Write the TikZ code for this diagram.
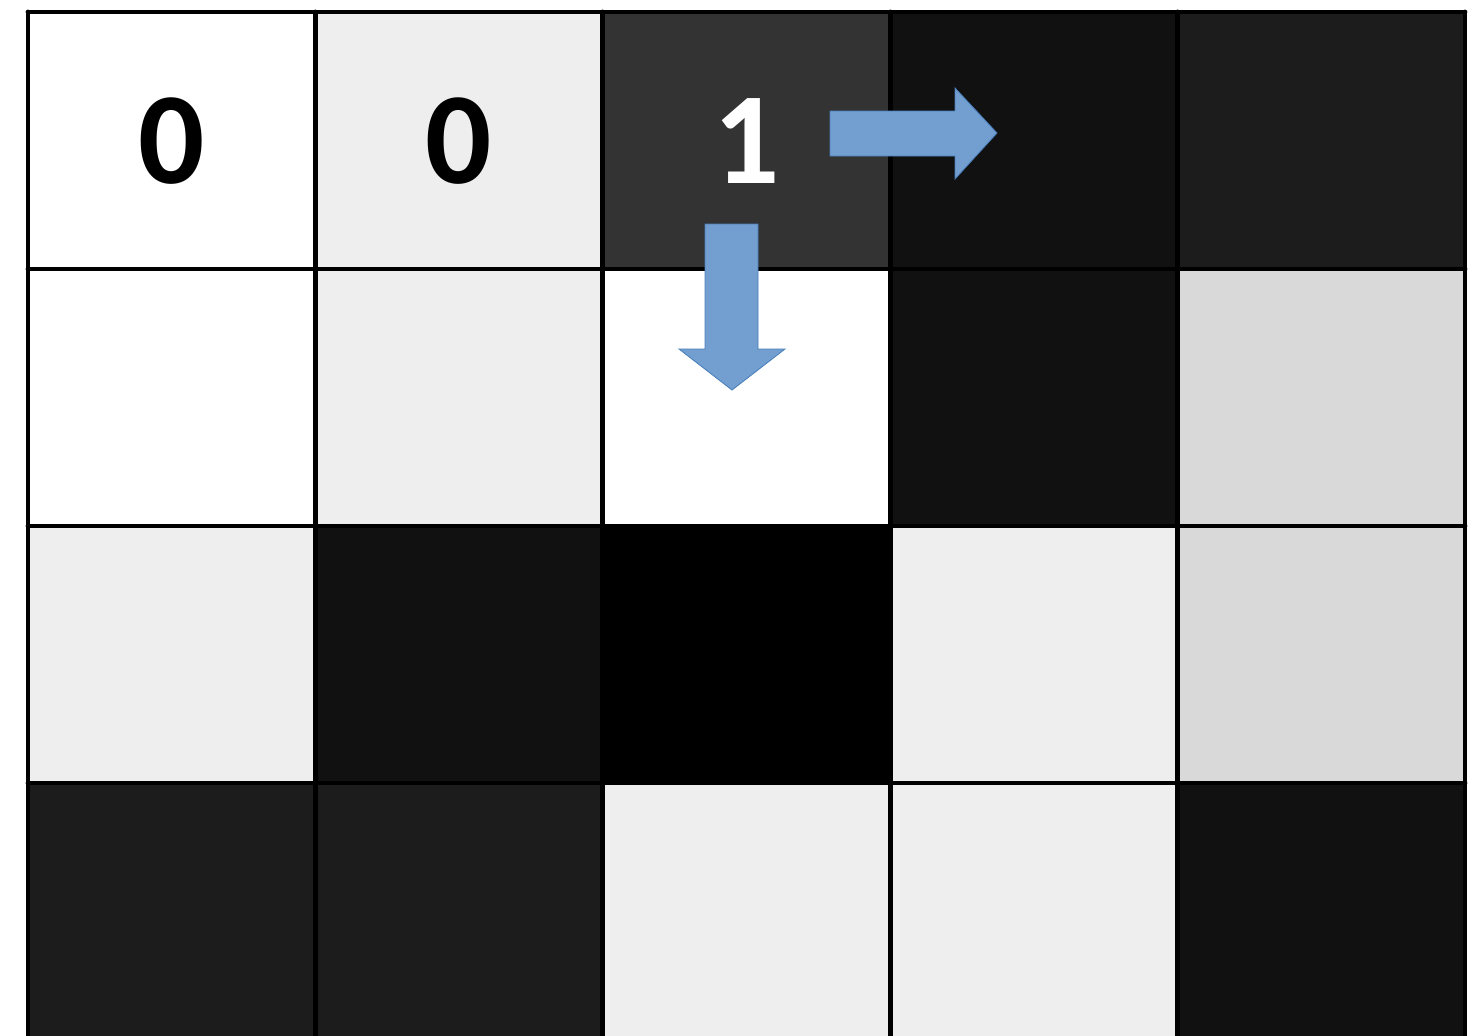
\documentclass[tikz,border=0pt]{standalone}
\usepackage{fontspec}
\setmainfont{Carlito}
\definecolor{cw}{HTML}{FFFFFF}
\definecolor{ca}{HTML}{EEEEEE}
\definecolor{cb}{HTML}{D9D9D9}
\definecolor{cc}{HTML}{333333}
\definecolor{cd}{HTML}{1C1C1C}
\definecolor{ce}{HTML}{111111}
\definecolor{ck}{HTML}{000000}
\definecolor{arrowfill}{HTML}{729FCF}
\definecolor{arrowline}{HTML}{4A7EBB}
\tikzset{
  cell/.style={fill=#1},
  gridline/.style={line width=3.5pt,line cap=round,line join=round},
  digit/.style={font=\fontsize{93}{93}\selectfont\bfseries},
  blockarrow/.style={fill=arrowfill,draw=arrowline,line width=0.6pt}
}
\begin{document}
\begin{tikzpicture}[x=0.025cm,y=-0.025cm]
    \clip (0,0) rectangle (1480,1035);
    \fill[white] (0,0) rectangle (1480,1035);
    % cells, row by row
    \foreach \c [count=\i from 0] in {cw,ca,cc,ce,cd}
        \fill[cell=\c] ({28+287.4*\i},12) rectangle ++(287.4,257);
    \foreach \c [count=\i from 0] in {cw,ca,cw,ce,cb}
        \fill[cell=\c] ({28+287.4*\i},269) rectangle ++(287.4,257);
    \foreach \c [count=\i from 0] in {ca,ce,ck,ca,cb}
        \fill[cell=\c] ({28+287.4*\i},526) rectangle ++(287.4,257);
    \foreach \c [count=\i from 0] in {cd,cd,ca,ca,ce}
        \fill[cell=\c] ({28+287.4*\i},783) rectangle ++(287.4,257);
    % grid
    \foreach \i in {0,...,5}
        \draw[gridline] ({28+287.4*\i},12) -- ({28+287.4*\i},1100);
    \foreach \j in {0,...,4}
        \draw[gridline] (28,{12+257*\j}) -- (1465,{12+257*\j});
    % values
    \node[digit] (v1) at (172,141) {0};
    \node[digit] (v2) at (459,141) {0};
    \node[digit,text=white] (v3) at (747,141) {1};
    % arrows
    \draw[blockarrow] (830,111) -- (955,111) -- (955,88) -- (997,133)
        -- (955,179) -- (955,156) -- (830,156) -- cycle;
    \draw[blockarrow] (705,224) -- (758,224) -- (758,349) -- (785,349)
        -- (732,390) -- (679,349) -- (705,349) -- cycle;
\end{tikzpicture}
\end{document}
